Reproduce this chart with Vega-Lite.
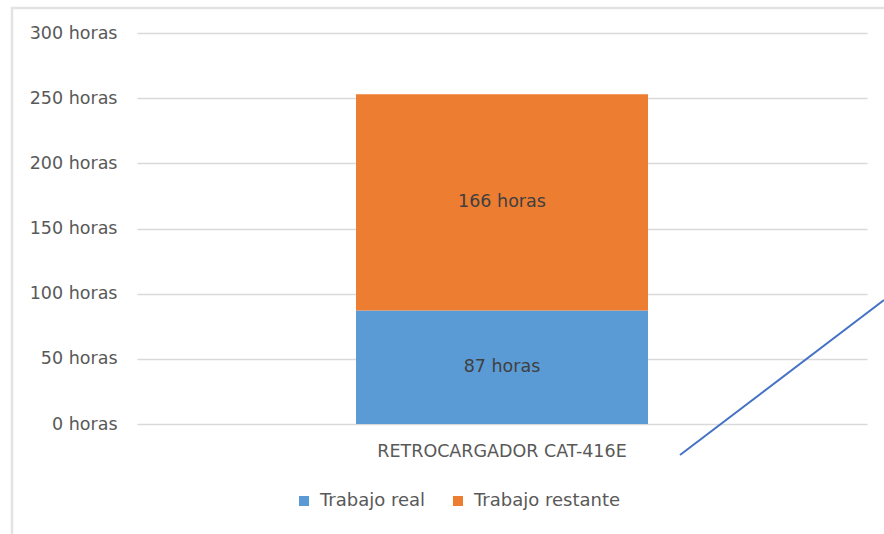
{
  "$schema": "https://vega.github.io/schema/vega-lite/v6.json",
  "width": 730,
  "height": 391,
  "autosize": {"type": "none"},
  "padding": {"left": 137, "top": 33, "right": 17, "bottom": 110},
  "background": "white",
  "config": {
    "view": {"stroke": null},
    "font": "DejaVu Sans",
    "axis": {"labelFont": "DejaVu Sans", "labelColor": "#595959"},
    "legend": {"labelFont": "DejaVu Sans", "labelColor": "#595959"}
  },
  "layer": [
    {
      "data": {"values": [{"bx": -125, "bx2": 800, "by": 319.2, "by2": -100}]},
      "mark": {"type": "rect", "fill": null, "fillOpacity": 0, "stroke": "#e3e3e3", "strokeWidth": 2.5, "clip": false},
      "encoding": {
        "x": {"field": "bx", "type": "quantitative", "scale": {"domain": [0, 730], "nice": false, "zero": false}, "axis": null},
        "x2": {"field": "bx2"},
        "y": {"field": "by", "type": "quantitative"},
        "y2": {"field": "by2"}
      }
    },
    {
      "data": {
        "values": [
          {"equipo": "RETROCARGADOR CAT-416E", "tipo": "Trabajo real", "horas": 87},
          {"equipo": "RETROCARGADOR CAT-416E", "tipo": "Trabajo restante", "horas": 166}
        ]
      },
      "layer": [
        {
          "mark": {"type": "bar"},
          "encoding": {
            "x": {
              "field": "equipo",
              "type": "nominal",
              "scale": {"paddingInner": 0.6, "paddingOuter": 0.3},
              "axis": {"title": null, "labelAngle": 0, "labelFontSize": 17.5, "labelLimit": 0, "labelPadding": 18, "ticks": false, "domain": false}
            },
            "y": {
              "field": "horas",
              "type": "quantitative",
              "stack": "zero",
              "scale": {"domain": [0, 300]},
              "axis": {
                "title": null,
                "values": [0, 50, 100, 150, 200, 250, 300],
                "labelExpr": "datum.value + ' horas'",
                "labelFontSize": 17.5,
                "labelPadding": 20,
                "ticks": false,
                "domain": false,
                "gridColor": "#d9d9d9",
                "gridWidth": 1.5
              }
            },
            "color": {
              "field": "tipo",
              "type": "nominal",
              "scale": {"domain": ["Trabajo real", "Trabajo restante"], "range": ["#5B9BD5", "#ED7D31"]},
              "legend": {
                "title": null,
                "orient": "none",
                "legendX": 158,
                "legendY": 459,
                "direction": "horizontal",
                "symbolType": "square",
                "symbolSize": 100,
                "symbolStrokeWidth": 0,
                "labelFontSize": 18,
                "labelOffset": 7,
                "columnPadding": 23
              }
            },
            "order": {"field": "tipo", "sort": "ascending"}
          }
        },
        {
          "transform": [
            {"stack": "horas", "groupby": ["equipo"], "sort": [{"field": "tipo", "order": "ascending"}], "as": ["y0", "y1"]},
            {"calculate": "(datum.y0 + datum.y1) / 2", "as": "ymid"},
            {"calculate": "datum.horas + ' horas'", "as": "etiqueta"}
          ],
          "mark": {"type": "text", "fontSize": 17.5, "color": "#404040", "baseline": "middle"},
          "encoding": {
            "x": {"field": "equipo", "type": "nominal"},
            "y": {"field": "ymid", "type": "quantitative"},
            "text": {"field": "etiqueta"}
          }
        }
      ]
    },
    {
      "data": {"values": [{"px": 543, "py": -23.8}, {"px": 747, "py": 95.2}]},
      "mark": {"type": "line", "color": "#4472C4", "strokeWidth": 2, "clip": false},
      "encoding": {
        "x": {"field": "px", "type": "quantitative", "scale": {"domain": [0, 730], "nice": false, "zero": false}, "axis": null},
        "y": {"field": "py", "type": "quantitative"}
      }
    }
  ],
  "resolve": {"scale": {"x": "independent"}, "axis": {"x": "independent"}}
}
